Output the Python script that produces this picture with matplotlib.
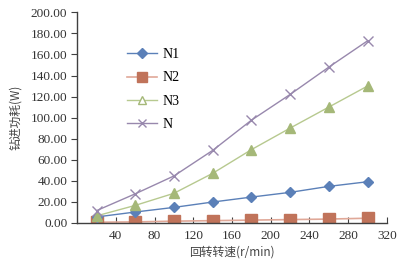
import matplotlib
matplotlib.use("Agg")
import matplotlib.pyplot as plt
from matplotlib.lines import Line2D
from matplotlib.ticker import FormatStrFormatter

speed = [20, 60, 100, 140, 180, 220, 260, 300]
N1 = [5.5, 10.2, 14.6, 19.7, 24.4, 28.9, 34.6, 39.0]
N2 = [0.5, 0.8, 1.5, 2.0, 2.5, 3.0, 3.5, 4.3]
N3 = [6.5, 16.5, 28.0, 47.0, 69.5, 90.0, 110.0, 130.0]
N = [11.5, 27.5, 44.5, 68.8, 97.5, 122.0, 148.0, 173.0]
xticks = [40, 80, 120, 160, 200, 240, 280, 320]
yticks = [0, 20, 40, 60, 80, 100, 120, 140, 160, 180, 200]

serif = ['Liberation Serif', 'DejaVu Serif']
cjk = ['Noto Sans CJK SC', 'DejaVu Sans']

fig = plt.figure(figsize=(4.06, 2.70), dpi=100)
ax = fig.add_axes([0.19, 0.175, 0.763, 0.779])

ax.plot(speed, N2, color='#e0a898', lw=1.2, marker='s', ms=8,
        mfc='#c0735a', mec='#c0735a', zorder=2)
ax.plot(speed, N1, color='#5b80b8', lw=1.0, marker='D', ms=5,
        mfc='#5b80b8', mec='#5b80b8', zorder=3)
ax.plot(speed, N3, color='#b7c98f', lw=1.0, marker='^', ms=7,
        mfc='#a5b878', mec='#a5b878', zorder=3)
ax.plot(speed, N, color='#9888ad', lw=1.0, marker='x', ms=7, mew=1.0, zorder=4)

ax.set_xlim(0, 320)
ax.set_ylim(0, 200)
ax.set_xticks(xticks)
ax.set_yticks(yticks)
ax.yaxis.set_major_formatter(FormatStrFormatter('%.2f'))
for s in ['top', 'right']:
    ax.spines[s].set_visible(False)
for s in ['left', 'bottom']:
    ax.spines[s].set_color('#404040')
    ax.spines[s].set_linewidth(1.0)
ax.tick_params(axis='y', direction='out', length=4, color='#404040', pad=3)
ax.tick_params(axis='x', direction='in', length=4, color='#404040', pad=5)
for lab in ax.get_xticklabels() + ax.get_yticklabels():
    lab.set_family(serif)
    lab.set_fontsize(9.5)
    lab.set_color('#333333')

ax.set_xlabel('回转转速(r/min)', family=cjk, fontsize=8.5, color='#444444', labelpad=3)
ax.set_ylabel('钻进功耗(W)', family=cjk, fontsize=8.5, color='#444444', labelpad=6)

handles = [
    Line2D([], [], color='#5b80b8', lw=1.0, marker='D', ms=5, mfc='#5b80b8', mec='#5b80b8'),
    Line2D([], [], color='#e0a898', lw=1.2, marker='s', ms=7, mfc='#c0735a', mec='#c0735a'),
    Line2D([], [], color='#b7c98f', lw=1.0, marker='^', ms=6, mfc='white', mec='#a5b878'),
    Line2D([], [], color='#9888ad', lw=1.0, marker='x', ms=6, mew=1.0),
]
leg = ax.legend(handles, ['N1', 'N2', 'N3', 'N'], loc='upper left',
                bbox_to_anchor=(0.12, 0.89), frameon=False, handlelength=2.2,
                handletextpad=0.35, labelspacing=0.75,
                prop={'family': serif, 'size': 10})

fig.savefig('out.png', dpi=100)
